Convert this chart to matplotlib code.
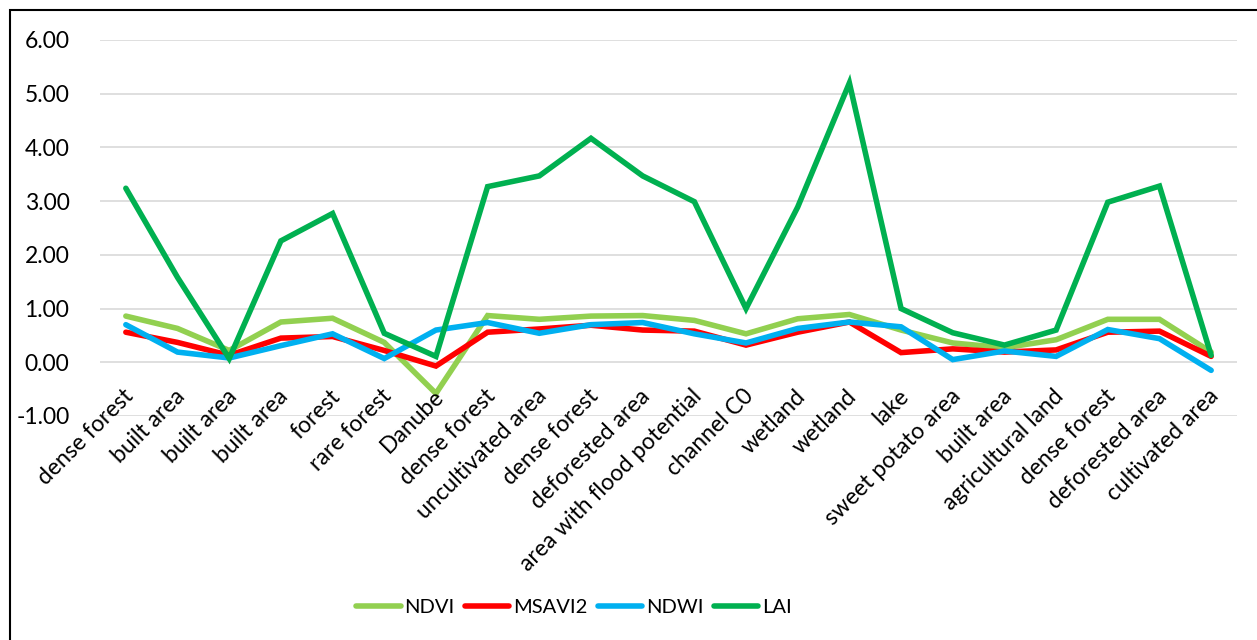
import numpy as np
import matplotlib.pyplot as plt
from matplotlib.patches import Rectangle

# Data
categories = ["dense forest", "built area", "built area", "built area", "forest",
              "rare forest", "Danube", "dense forest", "uncultivated area", "dense forest",
              "deforested area", "area with flood potential", "channel C0", "wetland",
              "wetland", "lake", "sweet potato area", "built area", "agricultural land",
              "dense forest", "deforested area", "cultivated area"]

ndvi = [0.86, 0.63, 0.22, 0.75, 0.82, 0.37, -0.58, 0.87, 0.80, 0.86, 0.87,
        0.78, 0.53, 0.81, 0.89, 0.60, 0.36, 0.27, 0.42, 0.80, 0.80, 0.19]
msavi2 = [0.56, 0.37, 0.13, 0.45, 0.48, 0.22, -0.07, 0.56, 0.62, 0.69, 0.60,
          0.58, 0.32, 0.56, 0.75, 0.18, 0.25, 0.19, 0.23, 0.56, 0.58, 0.11]
ndwi = [0.70, 0.19, 0.08, 0.31, 0.53, 0.07, 0.60, 0.74, 0.54, 0.70, 0.74,
        0.53, 0.36, 0.63, 0.75, 0.66, 0.05, 0.21, 0.11, 0.61, 0.44, -0.15]
lai = [3.24, 1.58, 0.07, 2.26, 2.77, 0.54, 0.11, 3.27, 3.47, 4.17, 3.47,
       2.99, 1.00, 2.89, 5.20, 1.00, 0.55, 0.32, 0.60, 2.98, 3.28, 0.13]

series = [("NDVI", ndvi, "#92d050"),
          ("MSAVI2", msavi2, "#ff0000"),
          ("NDWI", ndwi, "#00b0f0"),
          ("LAI", lai, "#00b050")]

plt.rcParams['font.family'] = ['Lato', 'DejaVu Sans']

fig = plt.figure(figsize=(12.57, 6.4), dpi=100)
ax = fig.add_axes([100 / 1257, 1 - 416 / 640, 1137 / 1257, 376 / 640])

x = np.arange(len(categories))
for name, vals, col in series:
    ax.plot(x, vals, color=col, lw=4, label=name, solid_capstyle='round',
            solid_joinstyle='miter')

ax.set_xlim(-0.5, len(categories) - 0.5)
ax.set_ylim(-1, 6)
ax.set_yticks(np.arange(-1, 7, 1))
ax.set_yticklabels([f"{v:.2f}" for v in np.arange(-1, 7, 1)], fontsize=16.5)
ax.grid(axis='y', color='#d9d9d9', lw=1.2)
ax.set_axisbelow(True)
ax.tick_params(axis='y', length=0, pad=22)
ax.set_xticks([])
for s in ax.spines.values():
    s.set_visible(False)

# category labels sit under the zero line, as in Excel
for i, lab in enumerate(categories):
    ax.annotate(lab, xy=(i, 0), xytext=(3, -22), textcoords='offset points',
                rotation=45, ha='right', va='center', rotation_mode='anchor',
                fontsize=16.5, annotation_clip=False)

fig.legend(loc='center', bbox_to_anchor=(574 / 1257, 1 - 607 / 640), ncol=4,
           frameon=False, fontsize=14.5, handlelength=2.2, handletextpad=0.2,
           columnspacing=0.5)

# outer frame (runs off the right and bottom edges)
fig.patches.append(Rectangle((10 / 1257, -0.1), 1.2, 1 - 10 / 640 + 0.1,
                             transform=fig.transFigure, fill=False,
                             edgecolor='black', lw=1.5))

fig.savefig("out.png", dpi=100)
